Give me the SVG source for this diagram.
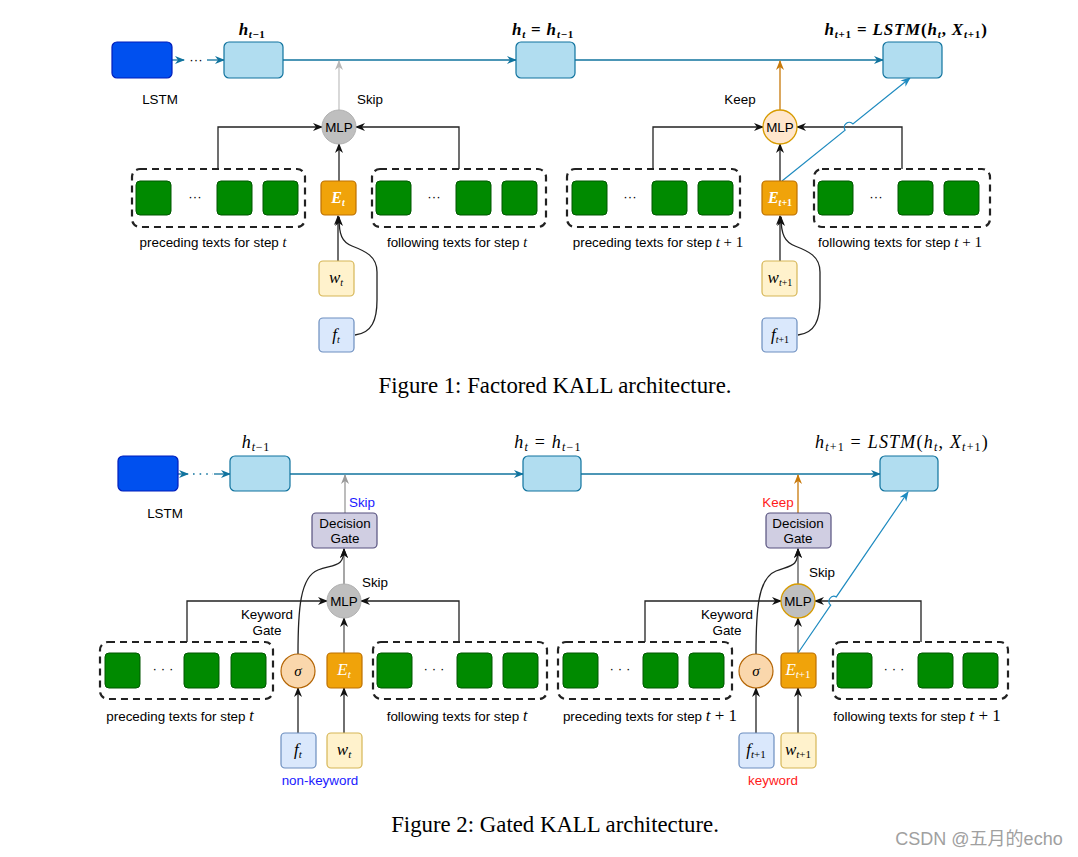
<svg xmlns="http://www.w3.org/2000/svg" width="1078" height="857" viewBox="0 0 1078 857">
<style>
.sans{font-family:"Liberation Sans",Arial,sans-serif;font-size:13.4px;fill:#000}
.math{font-family:"Liberation Serif","Times New Roman",serif;font-style:italic;fill:#000}
.up{font-style:normal}
.cap{font-family:"Liberation Serif","Times New Roman",serif;font-size:22.8px;fill:#000}
.lstm{fill:#0050ef;stroke:#001dbc;stroke-width:1.2}
.hbox{fill:#b1ddf0;stroke:#10739e;stroke-width:1.2}
.grn{fill:#008a00;stroke:#005700;stroke-width:1}
.ebox{fill:#f0a30a;stroke:#bd7000;stroke-width:1.2}
.wbox{fill:#fff2cc;stroke:#d6b656;stroke-width:1.2}
.fbox{fill:#dae8fc;stroke:#6c8ebf;stroke-width:1.2}
.dash{fill:none;stroke:#222;stroke-width:2.2;stroke-dasharray:7,5}
.gate{fill:#d0cee2;stroke:#56517e;stroke-width:1.2}
.sig{fill:#fad7ac;stroke:#b46504;stroke-width:1.2}
.blk{fill:none;stroke:#222;stroke-width:1.3}
.blu{fill:none;stroke:#10739e;stroke-width:1.3}
.blu2{fill:none;stroke:#1f8bc0;stroke-width:1.2}
</style>
<defs>
<marker id="mBlue" viewBox="0 0 10 10" refX="9" refY="5" markerWidth="10" markerHeight="10" orient="auto" markerUnits="userSpaceOnUse"><path d="M0,1 L10,5 L0,9 L3,5 z" fill="#10739e"/></marker>
<marker id="mBlue2" viewBox="0 0 10 10" refX="9" refY="5" markerWidth="10" markerHeight="10" orient="auto" markerUnits="userSpaceOnUse"><path d="M0,1 L10,5 L0,9 L3,5 z" fill="#1f8bc0"/></marker>
<marker id="mBlk" viewBox="0 0 10 10" refX="9" refY="5" markerWidth="10" markerHeight="10" orient="auto" markerUnits="userSpaceOnUse"><path d="M0,1 L10,5 L0,9 L3,5 z" fill="#111"/></marker>
<marker id="mGray" viewBox="0 0 10 10" refX="9" refY="5" markerWidth="10" markerHeight="10" orient="auto" markerUnits="userSpaceOnUse"><path d="M0,1 L10,5 L0,9 L3,5 z" fill="#999"/></marker>
<marker id="mLGray" viewBox="0 0 10 10" refX="9" refY="5" markerWidth="10" markerHeight="10" orient="auto" markerUnits="userSpaceOnUse"><path d="M0,1 L10,5 L0,9 L3,5 z" fill="#b8b8b8"/></marker>
<marker id="mOr" viewBox="0 0 10 10" refX="9" refY="5" markerWidth="10" markerHeight="10" orient="auto" markerUnits="userSpaceOnUse"><path d="M0,1 L10,5 L0,9 L3,5 z" fill="#c8790a"/></marker>
</defs>
<rect width="1078" height="857" fill="#fff"/>

<!-- ================= FIGURE 1 ================= -->
<g id="fig1-connectors">
  <path class="blu" d="M172,60 L184,60" marker-end="url(#mBlue)"/>
  <path class="blu" d="M207,60 L224,60" marker-end="url(#mBlue)"/>
  <path class="blu" d="M283,60 L516,60" marker-end="url(#mBlue)"/>
  <path class="blu" d="M575,60 L883,60" marker-end="url(#mBlue)"/>
  <path d="M339,110 L339,61" fill="none" stroke="#c4c4c4" stroke-width="1.3" marker-end="url(#mLGray)"/>
  <path d="M780,110 L780,61" fill="none" stroke="#c8790a" stroke-width="1.3" marker-end="url(#mOr)"/>
  <path class="blk" d="M218,169 L218,127 L322,127" marker-end="url(#mBlk)"/>
  <path class="blk" d="M459,169 L459,127 L356,127" marker-end="url(#mBlk)"/>
  <path class="blk" d="M339,181 L339,144" marker-end="url(#mBlk)"/>
  <path class="blk" d="M338,261 L338,216" marker-end="url(#mBlk)"/>
  <path class="blk" d="M355,335 C372,333 377,320 377,300 L377,272 C377,256 365,251 352,246 C342,242 339,235 339,217" marker-end="url(#mBlk)"/>
  <path class="blk" d="M653,169 L653,127 L763,127" marker-end="url(#mBlk)"/>
  <path class="blk" d="M902,169 L902,127 L797,127" marker-end="url(#mBlk)"/>
  <path class="blk" d="M780,181 L780,144" marker-end="url(#mBlk)"/>
  <path class="blk" d="M780,261 L780,216" marker-end="url(#mBlk)"/>
  <path class="blk" d="M798,335 C815,333 820,320 820,300 L820,272 C820,256 808,251 795,246 C785,242 781,235 781,217" marker-end="url(#mBlk)"/>
  <path class="blu2" d="M782,181 L845.1,130.1 A5,5 0 0 1 852.9,123.9 L910,78" marker-end="url(#mBlue2)"/>
</g>

<g id="f1-lstm"><rect class="lstm" x="112" y="42" width="60" height="36" rx="5"/></g>
<text class="sans" x="196" y="64" text-anchor="middle">···</text>
<g id="f1-h1"><rect class="hbox" x="224" y="42" width="59" height="36" rx="5"/></g>
<g id="f1-h2"><rect class="hbox" x="516" y="42" width="59" height="36" rx="5"/></g>
<g id="f1-h3"><rect class="hbox" x="883" y="42" width="59" height="36" rx="5"/></g>
<text class="sans" x="160" y="104" text-anchor="middle">LSTM</text>
<text class="sans" x="370" y="104" text-anchor="middle">Skip</text>
<text class="sans" x="740" y="104" text-anchor="middle">Keep</text>

<text class="math" x="252" y="35" text-anchor="middle" font-size="17" font-weight="bold" letter-spacing="0.5">h<tspan font-size="11" dy="3">t<tspan class="up">−1</tspan></tspan></text>
<text class="math" x="543" y="35" text-anchor="middle" font-size="17" font-weight="bold" letter-spacing="0.8">h<tspan font-size="11" dy="3">t</tspan><tspan dy="-3" class="up"> = </tspan>h<tspan font-size="11" dy="3">t<tspan class="up">−1</tspan></tspan></text>
<text class="math" x="906" y="35" text-anchor="middle" font-size="17" font-weight="bold" letter-spacing="0.8">h<tspan font-size="11" dy="3">t<tspan class="up">+1</tspan></tspan><tspan dy="-3" class="up"> = </tspan>LSTM<tspan class="up">(</tspan>h<tspan font-size="11" dy="3">t</tspan><tspan dy="-3" class="up">, </tspan>X<tspan font-size="11" dy="3">t<tspan class="up">+1</tspan></tspan><tspan dy="-3" class="up">)</tspan></text>

<g id="f1-mlp1"><circle cx="339" cy="127" r="17" fill="#bfbfbf" stroke="#b0b0b0" stroke-width="1"/><text class="sans" x="339" y="132" text-anchor="middle">MLP</text></g>
<g id="f1-mlp2"><circle cx="780" cy="127" r="17" fill="#ffe6cc" stroke="#d79b00" stroke-width="1.3"/><text class="sans" x="780" y="132" text-anchor="middle">MLP</text></g>

<g id="f1-prec1">
  <rect class="dash" x="132" y="169" width="173" height="58" rx="8"/>
  <rect class="grn" x="136" y="181" width="35" height="34" rx="4"/>
  <text class="sans" x="195" y="201" text-anchor="middle">···</text>
  <rect class="grn" x="217" y="181" width="35" height="34" rx="4"/>
  <rect class="grn" x="263" y="181" width="35" height="34" rx="4"/>
</g>
<g id="f1-foll1">
  <rect class="dash" x="372" y="169" width="174" height="58" rx="8"/>
  <rect class="grn" x="376" y="181" width="35" height="34" rx="4"/>
  <text class="sans" x="434" y="201" text-anchor="middle">···</text>
  <rect class="grn" x="456" y="181" width="35" height="34" rx="4"/>
  <rect class="grn" x="502" y="181" width="35" height="34" rx="4"/>
</g>
<g id="f1-E1"><rect class="ebox" x="321" y="181" width="35" height="34" rx="4"/><text class="math" x="338" y="203" text-anchor="middle" font-size="16" font-weight="bold" style="fill:#fff">E<tspan font-size="10" dy="3">t</tspan></text></g>
<g id="f1-w1"><rect class="wbox" x="319" y="261" width="35" height="35" rx="4"/><text class="math" x="336" y="283" text-anchor="middle" font-size="17">w<tspan font-size="10" dy="3">t</tspan></text></g>
<g id="f1-f1"><rect class="fbox" x="319" y="318" width="35" height="34" rx="4"/><text class="math" x="336" y="340" text-anchor="middle" font-size="17">f<tspan font-size="10" dy="3">t</tspan></text></g>
<text class="sans" x="213" y="247" text-anchor="middle">preceding texts for step <tspan class="math" font-size="14">t</tspan></text>
<text class="sans" x="457" y="247" text-anchor="middle">following texts for step <tspan class="math" font-size="14">t</tspan></text>

<g id="f1-prec2">
  <rect class="dash" x="567" y="169" width="173" height="58" rx="8"/>
  <rect class="grn" x="572" y="181" width="35" height="34" rx="4"/>
  <text class="sans" x="630" y="201" text-anchor="middle">···</text>
  <rect class="grn" x="652" y="181" width="35" height="34" rx="4"/>
  <rect class="grn" x="698" y="181" width="35" height="34" rx="4"/>
</g>
<g id="f1-foll2">
  <rect class="dash" x="814" y="169" width="176" height="58" rx="8"/>
  <rect class="grn" x="818" y="181" width="35" height="34" rx="4"/>
  <text class="sans" x="876" y="201" text-anchor="middle">···</text>
  <rect class="grn" x="898" y="181" width="35" height="34" rx="4"/>
  <rect class="grn" x="944" y="181" width="35" height="34" rx="4"/>
</g>
<g id="f1-E2"><rect class="ebox" x="762" y="181" width="35" height="34" rx="4"/><text class="math" x="780" y="203" text-anchor="middle" font-size="16" font-weight="bold" style="fill:#fff">E<tspan font-size="10" dy="3">t<tspan class="up">+1</tspan></tspan></text></g>
<g id="f1-w2"><rect class="wbox" x="762" y="261" width="35" height="35" rx="4"/><text class="math" x="780" y="283" text-anchor="middle" font-size="17">w<tspan font-size="10" dy="3">t<tspan class="up">+1</tspan></tspan></text></g>
<g id="f1-f2"><rect class="fbox" x="762" y="318" width="35" height="34" rx="4"/><text class="math" x="780" y="340" text-anchor="middle" font-size="17">f<tspan font-size="10" dy="3">t<tspan class="up">+1</tspan></tspan></text></g>
<text class="sans" x="658" y="247" text-anchor="middle">preceding texts for step <tspan class="math" font-size="15">t</tspan><tspan font-family="Liberation Serif" font-size="15"> + 1</tspan></text>
<text class="sans" x="900" y="247" text-anchor="middle">following texts for step <tspan class="math" font-size="15">t</tspan><tspan font-family="Liberation Serif" font-size="15"> + 1</tspan></text>

<text class="cap" x="555" y="393" text-anchor="middle">Figure 1: Factored KALL architecture.</text>

<!-- ================= FIGURE 2 ================= -->
<g id="fig2-connectors">
  <path class="blu" d="M178,474 L188,474" marker-end="url(#mBlue)"/>
  <path d="M193,474 L213,474" fill="none" stroke="#10739e" stroke-width="1.6" stroke-dasharray="1.6,5"/>
  <path class="blu" d="M214,474 L230,474" marker-end="url(#mBlue)"/>
  <path class="blu" d="M290,474 L523,474" marker-end="url(#mBlue)"/>
  <path class="blu" d="M581,474 L880,474" marker-end="url(#mBlue)"/>
  <path d="M345,513 L345,475" fill="none" stroke="#999" stroke-width="1.3" marker-end="url(#mGray)"/>
  <path d="M798,513 L798,475" fill="none" stroke="#c8790a" stroke-width="1.3" marker-end="url(#mOr)"/>
  <path d="M344,584 L344,549" fill="none" stroke="#777" stroke-width="1.3" marker-end="url(#mBlk)"/>
  <path class="blk" d="M298,654 C298,610 300,577 318,570 C335,564 344,567 344,549" marker-end="url(#mBlk)"/>
  <path class="blk" d="M187,642 L187,601 L327,601" marker-end="url(#mBlk)"/>
  <path class="blk" d="M459,642 L459,601 L361,601" marker-end="url(#mBlk)"/>
  <path d="M344,653 L344,618" fill="none" stroke="#555" stroke-width="1.3" marker-end="url(#mBlk)"/>
  <path class="blk" d="M298,733 L298,688" marker-end="url(#mBlk)"/>
  <path class="blk" d="M344,733 L344,688" marker-end="url(#mBlk)"/>
  <path d="M798,584 L798,549" fill="none" stroke="#555" stroke-width="1.3" marker-end="url(#mBlk)"/>
  <path class="blk" d="M756,654 C756,610 758,578 776,571 C792,565 798,567 798,549" marker-end="url(#mBlk)"/>
  <path class="blk" d="M645,642 L645,601 L781,601" marker-end="url(#mBlk)"/>
  <path class="blk" d="M921,642 L921,601 L815,601" marker-end="url(#mBlk)"/>
  <path d="M798,653 L798,618" fill="none" stroke="#555" stroke-width="1.3" marker-end="url(#mBlk)"/>
  <path class="blk" d="M756,733 L756,688" marker-end="url(#mBlk)"/>
  <path class="blk" d="M798,733 L798,688" marker-end="url(#mBlk)"/>
  <path class="blu2" d="M798,653 L830.7,605.1 A5,5 0 0 1 836.3,596.9 L908,492" marker-end="url(#mBlue2)"/>
</g>

<g id="f2-lstm"><rect class="lstm" x="118" y="456" width="60" height="35" rx="5"/></g>
<g id="f2-h1"><rect class="hbox" x="230" y="456" width="60" height="35" rx="5"/></g>
<g id="f2-h2"><rect class="hbox" x="523" y="456" width="58" height="35" rx="5"/></g>
<g id="f2-h3"><rect class="hbox" x="880" y="456" width="58" height="35" rx="5"/></g>
<text class="sans" x="165" y="518" text-anchor="middle">LSTM</text>

<text class="math" x="256" y="448" text-anchor="middle" font-size="18" letter-spacing="0.8">h<tspan font-size="12" dy="3">t<tspan class="up">−1</tspan></tspan></text>
<text class="math" x="548" y="448" text-anchor="middle" font-size="18" letter-spacing="1.2">h<tspan font-size="12" dy="3">t</tspan><tspan dy="-3" class="up"> = </tspan>h<tspan font-size="12" dy="3">t<tspan class="up">−1</tspan></tspan></text>
<text class="math" x="902" y="448" text-anchor="middle" font-size="18" letter-spacing="1.2">h<tspan font-size="12" dy="3">t<tspan class="up">+1</tspan></tspan><tspan dy="-3" class="up"> = </tspan>LSTM<tspan class="up">(</tspan>h<tspan font-size="12" dy="3">t</tspan><tspan dy="-3" class="up">, </tspan>X<tspan font-size="12" dy="3">t<tspan class="up">+1</tspan></tspan><tspan dy="-3" class="up">)</tspan></text>

<text class="sans" x="362" y="507" text-anchor="middle" style="fill:#1a1aff">Skip</text>
<text class="sans" x="778" y="507" text-anchor="middle" style="fill:#ff1a1a">Keep</text>
<g id="f2-gate1"><rect class="gate" x="312" y="513" width="65" height="35" rx="4"/><text class="sans" x="345" y="528" text-anchor="middle">Decision</text><text class="sans" x="345" y="543" text-anchor="middle">Gate</text></g>
<g id="f2-gate2"><rect class="gate" x="766" y="513" width="65" height="35" rx="4"/><text class="sans" x="798" y="528" text-anchor="middle">Decision</text><text class="sans" x="798" y="543" text-anchor="middle">Gate</text></g>
<text class="sans" x="375" y="587" text-anchor="middle">Skip</text>
<text class="sans" x="822" y="577" text-anchor="middle">Skip</text>

<g id="f2-mlp1"><circle cx="344" cy="601" r="17" fill="#bfbfbf" stroke="#b0b0b0" stroke-width="1"/><text class="sans" x="344" y="606" text-anchor="middle">MLP</text></g>
<g id="f2-mlp2"><circle cx="798" cy="601" r="17" fill="#bfbfbf" stroke="#d79b00" stroke-width="1.3"/><text class="sans" x="798" y="606" text-anchor="middle">MLP</text></g>
<text class="sans" x="267" y="619" text-anchor="middle">Keyword</text>
<text class="sans" x="267" y="635" text-anchor="middle">Gate</text>
<text class="sans" x="727" y="619" text-anchor="middle">Keyword</text>
<text class="sans" x="727" y="635" text-anchor="middle">Gate</text>

<g id="f2-prec1">
  <rect class="dash" x="100" y="642" width="173" height="57" rx="8"/>
  <rect class="grn" x="105" y="653" width="35" height="35" rx="4"/>
  <text class="sans" x="163" y="673" text-anchor="middle">· · ·</text>
  <rect class="grn" x="184" y="653" width="35" height="35" rx="4"/>
  <rect class="grn" x="231" y="653" width="35" height="35" rx="4"/>
</g>
<g id="f2-sig1"><circle class="sig" cx="298" cy="671" r="17"/><text class="math" x="298" y="676" text-anchor="middle" font-size="15">σ</text></g>
<g id="f2-E1"><rect class="ebox" x="327" y="653" width="35" height="35" rx="4"/><text class="math" x="344" y="675" text-anchor="middle" font-size="17" style="fill:#fff">E<tspan font-size="11" dy="3">t</tspan></text></g>
<g id="f2-foll1">
  <rect class="dash" x="373" y="642" width="174" height="57" rx="8"/>
  <rect class="grn" x="377" y="653" width="35" height="35" rx="4"/>
  <text class="sans" x="434" y="673" text-anchor="middle">· · ·</text>
  <rect class="grn" x="457" y="653" width="35" height="35" rx="4"/>
  <rect class="grn" x="503" y="653" width="35" height="35" rx="4"/>
</g>
<g id="f2-f1"><rect class="fbox" x="281" y="733" width="35" height="35" rx="4"/><text class="math" x="298" y="755" text-anchor="middle" font-size="17">f<tspan font-size="11" dy="3">t</tspan></text></g>
<g id="f2-w1"><rect class="wbox" x="327" y="733" width="35" height="35" rx="4"/><text class="math" x="344" y="755" text-anchor="middle" font-size="17">w<tspan font-size="11" dy="3">t</tspan></text></g>
<text class="sans" x="180" y="721" text-anchor="middle">preceding texts for step <tspan class="math" font-size="16">t</tspan></text>
<text class="sans" x="457" y="721" text-anchor="middle">following texts for step <tspan class="math" font-size="16">t</tspan></text>
<text class="sans" x="320" y="785" text-anchor="middle" style="fill:#1a1aff">non-keyword</text>

<g id="f2-prec2">
  <rect class="dash" x="558" y="642" width="174" height="57" rx="8"/>
  <rect class="grn" x="563" y="653" width="35" height="35" rx="4"/>
  <text class="sans" x="620" y="673" text-anchor="middle">· · ·</text>
  <rect class="grn" x="643" y="653" width="35" height="35" rx="4"/>
  <rect class="grn" x="689" y="653" width="35" height="35" rx="4"/>
</g>
<g id="f2-sig2"><circle class="sig" cx="756" cy="671" r="17"/><text class="math" x="756" y="676" text-anchor="middle" font-size="15">σ</text></g>
<g id="f2-E2"><rect class="ebox" x="781" y="653" width="35" height="35" rx="4"/><text class="math" x="798" y="675" text-anchor="middle" font-size="17" style="fill:#fff">E<tspan font-size="11" dy="3">t<tspan class="up">+1</tspan></tspan></text></g>
<g id="f2-foll2">
  <rect class="dash" x="833" y="642" width="175" height="57" rx="8"/>
  <rect class="grn" x="837" y="653" width="35" height="35" rx="4"/>
  <text class="sans" x="894" y="673" text-anchor="middle">· · ·</text>
  <rect class="grn" x="918" y="653" width="35" height="35" rx="4"/>
  <rect class="grn" x="963" y="653" width="35" height="35" rx="4"/>
</g>
<g id="f2-f2"><rect class="fbox" x="739" y="733" width="35" height="35" rx="4"/><text class="math" x="756" y="755" text-anchor="middle" font-size="17">f<tspan font-size="11" dy="3">t<tspan class="up">+1</tspan></tspan></text></g>
<g id="f2-w2"><rect class="wbox" x="781" y="733" width="35" height="35" rx="4"/><text class="math" x="798" y="755" text-anchor="middle" font-size="17">w<tspan font-size="11" dy="3">t<tspan class="up">+1</tspan></tspan></text></g>
<text class="sans" x="650" y="721" text-anchor="middle">preceding texts for step <tspan class="math" font-size="17">t</tspan><tspan font-family="Liberation Serif" font-size="17"> + 1</tspan></text>
<text class="sans" x="917" y="721" text-anchor="middle">following texts for step <tspan class="math" font-size="17">t</tspan><tspan font-family="Liberation Serif" font-size="17"> + 1</tspan></text>
<text class="sans" x="773" y="785" text-anchor="middle" style="fill:#ff1a1a">keyword</text>

<text class="cap" x="555" y="832" text-anchor="middle">Figure 2: Gated KALL architecture.</text>
<text x="979" y="845" text-anchor="middle" font-family="Liberation Sans,'Noto Sans CJK SC',sans-serif" font-size="18" fill="#a0a0a0">CSDN @五月的echo</text>
</svg>
